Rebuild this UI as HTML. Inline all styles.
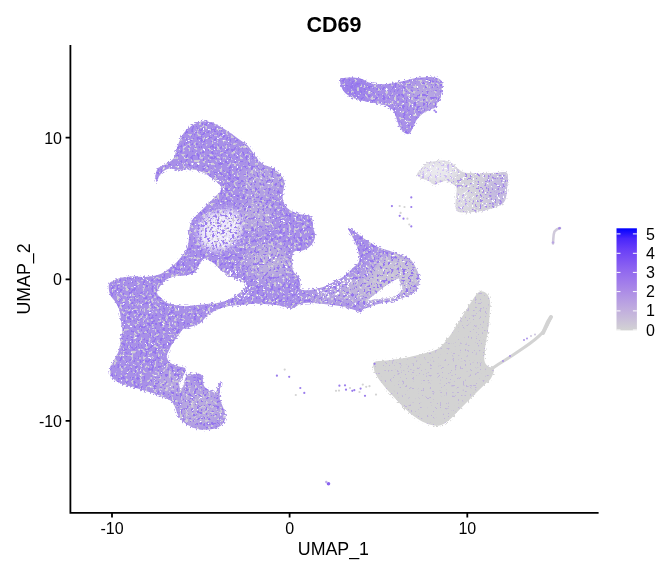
<!DOCTYPE html>
<html><head><meta charset="utf-8"><style>
html,body{margin:0;padding:0;background:#fff;}
svg{display:block;}
text{font-family:"Liberation Sans",Arial,sans-serif;}
</style></head><body>
<svg width="672" height="576" viewBox="0 0 672 576">
<defs>
<linearGradient id="lg" x1="0" y1="0" x2="0" y2="1"><stop offset="0.000" stop-color="#0000ff"/><stop offset="0.100" stop-color="#4926fb"/><stop offset="0.200" stop-color="#673df8"/><stop offset="0.300" stop-color="#7c51f4"/><stop offset="0.400" stop-color="#8e65f0"/><stop offset="0.500" stop-color="#9d77ec"/><stop offset="0.600" stop-color="#aa89e7"/><stop offset="0.700" stop-color="#b69ce3"/><stop offset="0.800" stop-color="#c1aede"/><stop offset="0.900" stop-color="#cac0d9"/><stop offset="1.000" stop-color="#d3d3d3"/></linearGradient>
<filter id="sg" color-interpolation-filters="sRGB" x="0" y="0" width="672" height="576" filterUnits="userSpaceOnUse"><feTurbulence type="fractalNoise" baseFrequency="0.35" numOctaves="2" seed="3"/><feColorMatrix type="matrix" values="0 0 0 0 0.812 0 0 0 0 0.796 0 0 0 0 0.847 14 0 0 0 -8.4"/><feComponentTransfer><feFuncA type="linear" slope="1.0"/></feComponentTransfer></filter><filter id="sw" color-interpolation-filters="sRGB" x="0" y="0" width="672" height="576" filterUnits="userSpaceOnUse"><feTurbulence type="fractalNoise" baseFrequency="0.35" numOctaves="2" seed="3"/><feColorMatrix type="matrix" values="0 0 0 0 1.000 0 0 0 0 1.000 0 0 0 0 1.000 0 14 0 0 -10.08"/><feComponentTransfer><feFuncA type="linear" slope="1.0"/></feComponentTransfer></filter><filter id="sp" color-interpolation-filters="sRGB" x="0" y="0" width="672" height="576" filterUnits="userSpaceOnUse"><feTurbulence type="fractalNoise" baseFrequency="0.35" numOctaves="2" seed="3"/><feColorMatrix type="matrix" values="0 0 0 0 0.580 0 0 0 0 0.455 0 0 0 0 0.933 0 0 14 0 -7.9799999999999995"/><feComponentTransfer><feFuncA type="linear" slope="1.0"/></feComponentTransfer></filter><filter id="sp2" color-interpolation-filters="sRGB" x="0" y="0" width="672" height="576" filterUnits="userSpaceOnUse"><feTurbulence type="fractalNoise" baseFrequency="0.4" numOctaves="2" seed="11"/><feColorMatrix type="matrix" values="0 0 0 0 0.616 0 0 0 0 0.486 0 0 0 0 0.925 14 0 0 0 -9.24"/><feComponentTransfer><feFuncA type="linear" slope="1.0"/></feComponentTransfer></filter><filter id="sw2" color-interpolation-filters="sRGB" x="0" y="0" width="672" height="576" filterUnits="userSpaceOnUse"><feTurbulence type="fractalNoise" baseFrequency="0.4" numOctaves="2" seed="11"/><feColorMatrix type="matrix" values="0 0 0 0 1.000 0 0 0 0 1.000 0 0 0 0 1.000 0 14 0 0 -9.24"/><feComponentTransfer><feFuncA type="linear" slope="1.0"/></feComponentTransfer></filter><filter id="sp3" color-interpolation-filters="sRGB" x="0" y="0" width="672" height="576" filterUnits="userSpaceOnUse"><feTurbulence type="fractalNoise" baseFrequency="0.4" numOctaves="2" seed="13"/><feColorMatrix type="matrix" values="0 0 0 0 0.639 0 0 0 0 0.522 0 0 0 0 0.918 0 0 14 0 -8.33"/><feComponentTransfer><feFuncA type="linear" slope="1.0"/></feComponentTransfer></filter><filter id="swh" color-interpolation-filters="sRGB" x="0" y="0" width="672" height="576" filterUnits="userSpaceOnUse"><feTurbulence type="fractalNoise" baseFrequency="0.4" numOctaves="2" seed="5"/><feColorMatrix type="matrix" values="0 0 0 0 1.000 0 0 0 0 1.000 0 0 0 0 1.000 14 0 0 0 -8.19"/><feComponentTransfer><feFuncA type="linear" slope="1.0"/></feComponentTransfer></filter><filter id="sgh" color-interpolation-filters="sRGB" x="0" y="0" width="672" height="576" filterUnits="userSpaceOnUse"><feTurbulence type="fractalNoise" baseFrequency="0.4" numOctaves="2" seed="7"/><feColorMatrix type="matrix" values="0 0 0 0 0.827 0 0 0 0 0.827 0 0 0 0 0.827 0 14 0 0 -7.28"/><feComponentTransfer><feFuncA type="linear" slope="1.0"/></feComponentTransfer></filter><filter id="mk" color-interpolation-filters="sRGB" x="0" y="0" width="672" height="576" filterUnits="userSpaceOnUse"><feTurbulence type="fractalNoise" baseFrequency="0.5" numOctaves="2" seed="21"/><feColorMatrix type="matrix" values="0 0 0 0 1.000 0 0 0 0 1.000 0 0 0 0 1.000 14 0 0 0 -7.840000000000001"/><feComponentTransfer><feFuncA type="linear" slope="1.0"/></feComponentTransfer></filter><mask id="em" maskUnits="userSpaceOnUse" x="0" y="0" width="672" height="576"><rect width="672" height="576" filter="url(#mk)"/></mask><filter id="bl3" x="-50%" y="-50%" width="200%" height="200%"><feGaussianBlur stdDeviation="3"/></filter><filter id="spd" color-interpolation-filters="sRGB" x="0" y="0" width="672" height="576" filterUnits="userSpaceOnUse"><feTurbulence type="fractalNoise" baseFrequency="0.4" numOctaves="2" seed="17"/><feColorMatrix type="matrix" values="0 0 0 0 0.604 0 0 0 0 0.486 0 0 0 0 0.933 0 0 14 0 -7.49"/><feComponentTransfer><feFuncA type="linear" slope="1.0"/></feComponentTransfer></filter><filter id="sgd" color-interpolation-filters="sRGB" x="0" y="0" width="672" height="576" filterUnits="userSpaceOnUse"><feTurbulence type="fractalNoise" baseFrequency="0.4" numOctaves="2" seed="17"/><feColorMatrix type="matrix" values="0 0 0 0 0.812 0 0 0 0 0.796 0 0 0 0 0.847 14 0 0 0 -8.4"/><feComponentTransfer><feFuncA type="linear" slope="1.0"/></feComponentTransfer></filter><filter id="bl" x="-50%" y="-50%" width="200%" height="200%"><feGaussianBlur stdDeviation="6"/></filter>
<clipPath id="cm"><path clip-rule="evenodd" d="M156.7,182.0 C156.1,181.8 155.4,177.5 155.6,175.3 C155.8,173.1 156.5,170.3 157.8,168.6 C159.1,166.9 161.2,166.5 163.4,165.2 C165.6,163.9 169.3,162.3 171.2,160.8 C173.1,159.3 173.7,158.4 174.6,156.3 C175.5,154.2 175.7,151.7 176.8,148.5 C177.9,145.3 179.6,140.5 181.2,137.3 C182.9,134.1 184.6,131.7 186.8,129.5 C189.0,127.3 191.8,125.3 194.6,123.9 C197.4,122.5 200.6,121.4 203.6,121.2 C206.6,121.1 209.5,121.8 212.5,122.8 C215.5,123.8 218.4,125.6 221.4,127.3 C224.4,129.0 227.4,130.8 230.4,132.9 C233.4,135.0 236.3,137.4 239.3,139.6 C242.3,141.8 245.3,143.1 248.2,146.2 C251.1,149.4 254.5,155.4 256.9,158.3 C259.3,161.2 260.4,162.5 262.5,163.9 C264.6,165.3 267.3,165.8 269.4,166.7 C271.5,167.6 273.1,168.0 275.0,169.4 C276.9,170.8 279.1,173.1 280.6,175.0 C282.1,176.9 283.4,178.5 284.0,180.6 C284.6,182.7 284.2,185.2 284.0,187.5 C283.8,189.8 282.7,192.1 282.6,194.4 C282.5,196.7 282.5,199.1 283.3,201.4 C284.1,203.7 285.6,206.5 287.5,208.3 C289.4,210.2 292.1,211.4 294.4,212.5 C296.7,213.6 299.1,214.1 301.4,214.6 C303.7,215.1 306.6,214.7 308.3,215.3 C310.0,215.9 311.0,216.1 311.8,218.0 C312.6,219.9 312.5,223.5 313.0,226.7 C313.5,229.9 315.4,233.9 315.0,237.0 C314.6,240.1 312.9,243.1 310.8,245.4 C308.7,247.7 305.3,249.6 302.5,250.6 C299.7,251.6 295.9,250.5 294.2,251.7 C292.4,252.9 292.2,254.9 292.0,258.0 C291.8,261.1 292.1,267.3 293.1,270.4 C294.2,273.5 297.1,274.3 298.3,276.7 C299.5,279.1 300.0,282.9 300.4,285.0 C300.8,287.1 299.3,288.3 300.4,289.2 C301.4,290.1 304.3,290.2 306.7,290.2 C309.1,290.2 312.2,289.7 315.0,289.2 C317.8,288.7 320.5,288.0 323.3,287.0 C326.1,286.0 328.9,284.4 331.7,283.0 C334.5,281.6 337.6,280.1 340.0,278.8 C342.4,277.4 344.2,276.3 346.2,274.6 C348.3,272.9 350.4,270.4 352.5,268.3 C354.6,266.2 357.7,264.4 358.8,262.0 C359.8,259.6 359.1,256.5 358.8,253.8 C358.4,251.0 357.7,248.2 356.7,245.4 C355.7,242.6 353.9,239.8 352.5,237.0 C351.1,234.2 347.6,229.0 348.3,228.3 C349.0,227.6 353.9,231.1 356.7,232.9 C359.5,234.7 362.2,237.3 365.0,239.2 C367.8,241.1 370.5,242.8 373.3,244.4 C376.1,246.0 378.6,247.3 381.7,248.5 C384.8,249.7 388.5,250.5 392.0,251.7 C395.5,252.9 399.4,254.4 402.5,255.8 C405.6,257.2 408.6,257.9 410.8,260.0 C413.1,262.1 414.6,265.5 416.0,268.3 C417.4,271.1 418.7,274.4 419.2,276.7 C419.7,279.0 419.6,280.2 419.2,282.3 C418.8,284.4 418.1,287.1 417.0,289.0 C415.9,290.9 414.4,292.2 412.5,293.5 C410.6,294.8 408.0,295.9 405.8,296.8 C403.6,297.7 401.3,298.2 399.1,299.0 C396.9,299.8 395.0,300.6 392.4,301.3 C389.8,302.0 386.3,302.4 383.5,303.0 C380.7,303.6 377.9,304.0 375.7,304.6 C373.4,305.2 372.1,306.1 370.0,306.9 C367.9,307.6 364.9,308.2 363.4,309.1 C361.9,310.0 362.3,312.0 360.8,312.1 C359.3,312.2 357.4,310.9 354.6,310.0 C351.8,309.1 348.0,307.8 344.2,306.9 C340.4,306.0 335.5,305.3 331.7,304.8 C327.9,304.3 324.7,304.1 321.2,303.8 C317.8,303.4 314.3,302.7 310.8,302.7 C307.3,302.7 303.3,302.9 300.4,303.8 C297.5,304.6 295.9,307.5 293.3,308.1 C290.7,308.7 287.8,307.6 285.0,307.1 C282.2,306.6 280.2,305.5 276.7,305.0 C273.2,304.5 267.8,304.2 264.2,304.0 C260.6,303.8 258.1,303.7 255.0,303.8 C251.9,303.9 248.1,304.2 245.5,304.4 C242.9,304.6 241.5,304.8 239.5,305.0 C237.5,305.2 235.6,305.4 233.6,305.6 C231.6,305.8 229.6,305.8 227.6,306.2 C225.6,306.6 223.7,307.3 221.7,308.0 C219.7,308.7 217.7,309.5 215.7,310.4 C213.7,311.3 211.6,312.0 209.8,313.3 C208.0,314.6 206.6,316.5 205.0,318.1 C203.4,319.7 202.4,321.5 200.2,322.9 C198.0,324.3 194.7,325.4 191.9,326.4 C189.1,327.4 185.7,327.5 183.6,328.8 C181.5,330.1 181.0,331.9 179.2,334.2 C177.4,336.5 174.6,339.7 172.9,342.5 C171.2,345.3 169.8,348.4 168.8,350.8 C167.7,353.2 166.4,354.9 166.7,357.0 C167.0,359.1 168.7,361.7 170.8,363.3 C172.9,364.9 176.8,365.6 179.2,366.5 C181.6,367.4 184.7,366.9 185.4,368.5 C186.1,370.1 184.3,373.6 183.3,375.8 C182.3,378.1 179.7,379.9 179.2,382.0 C178.7,384.1 179.5,387.6 180.2,388.3 C180.9,389.0 182.4,388.0 183.3,386.2 C184.2,384.5 184.4,380.0 185.4,377.9 C186.4,375.8 188.2,374.3 189.6,373.8 C191.0,373.2 192.4,374.8 193.8,374.8 C195.1,374.8 196.5,373.6 197.9,373.8 C199.3,373.9 200.9,373.7 202.0,375.8 C203.1,377.9 202.8,383.8 204.2,386.2 C205.6,388.7 208.5,389.4 210.4,390.4 C212.3,391.4 214.2,393.5 215.6,392.5 C217.0,391.5 217.9,385.8 218.8,384.2 C219.6,382.6 220.6,382.1 220.8,383.1 C221.0,384.1 220.0,387.8 219.8,390.4 C219.6,393.0 219.3,396.0 219.8,398.8 C220.3,401.5 222.0,404.6 222.9,407.0 C223.8,409.4 224.7,411.2 225.0,413.3 C225.3,415.4 225.7,417.5 225.0,419.6 C224.3,421.7 222.9,424.2 220.8,425.8 C218.7,427.4 215.6,428.4 212.5,429.0 C209.4,429.6 205.5,430.0 202.0,429.6 C198.5,429.2 194.8,428.2 191.7,426.9 C188.6,425.6 185.6,423.6 183.3,421.7 C181.0,419.8 179.5,417.8 178.1,415.4 C176.7,412.9 176.2,409.4 175.0,407.0 C173.8,404.6 172.9,402.5 170.8,400.8 C168.7,399.1 165.3,397.9 162.5,396.7 C159.7,395.5 157.3,394.6 154.2,393.5 C151.1,392.4 147.2,391.4 143.8,390.4 C140.3,389.4 136.8,388.3 133.3,387.3 C129.8,386.3 126.0,385.4 122.9,384.2 C119.8,383.0 116.7,381.7 114.6,380.0 C112.5,378.3 111.1,375.8 110.4,373.8 C109.7,371.7 109.7,369.9 110.4,367.5 C111.1,365.1 113.2,362.0 114.6,359.2 C116.0,356.4 117.7,353.9 118.8,350.8 C119.8,347.7 120.2,343.9 120.8,340.4 C121.4,336.9 122.1,332.3 122.3,330.0 C122.5,327.7 122.0,328.6 121.7,326.6 C121.5,324.6 121.2,320.9 120.8,318.0 C120.4,315.1 120.0,311.8 119.1,309.2 C118.2,306.6 117.0,304.6 115.6,302.3 C114.1,300.0 111.6,297.9 110.4,295.3 C109.2,292.7 108.7,288.9 108.7,286.7 C108.7,284.5 109.0,283.6 110.4,282.3 C111.9,281.0 114.8,279.8 117.4,278.9 C120.0,278.0 123.1,277.5 126.0,277.1 C128.9,276.7 131.8,276.6 134.7,276.6 C137.6,276.6 140.5,277.2 143.4,277.1 C146.3,277.0 149.5,276.7 152.1,276.2 C154.7,275.8 157.0,275.2 159.0,274.5 C161.0,273.8 162.5,272.9 164.2,271.9 C165.9,270.9 167.4,270.0 169.4,268.4 C171.4,266.8 174.3,264.5 176.4,262.4 C178.5,260.3 180.2,258.2 182.0,256.0 C183.8,253.8 185.9,251.7 187.0,249.0 C188.1,246.3 188.3,243.3 188.8,240.0 C189.2,236.7 189.1,232.1 189.4,229.4 C189.7,226.7 190.1,225.8 190.8,223.9 C191.5,222.1 192.2,220.2 193.6,218.3 C195.0,216.5 197.3,214.7 199.2,212.8 C201.0,211.0 202.8,209.0 204.7,207.2 C206.5,205.3 208.5,203.5 210.3,201.7 C212.2,199.8 214.2,197.7 215.8,196.1 C217.4,194.5 219.1,193.5 220.0,192.0 C220.9,190.5 221.9,188.7 221.4,187.1 C220.9,185.5 218.8,183.7 217.2,182.2 C215.6,180.7 213.8,179.5 211.7,178.0 C209.6,176.5 207.0,174.5 204.7,173.2 C202.4,171.9 200.1,171.0 197.8,170.4 C195.5,169.8 193.1,169.8 190.8,169.7 C188.5,169.6 186.2,169.7 183.9,169.7 C181.6,169.7 179.2,169.9 176.9,169.7 C174.6,169.5 172.3,168.0 170.0,168.3 C167.7,168.6 164.8,170.1 163.0,171.5 C161.2,172.9 160.1,174.8 159.0,176.5 C157.9,178.2 157.3,182.2 156.7,182.0Z M157.1,291.9 C157.7,289.2 161.5,283.8 164.3,281.2 C167.1,278.6 170.2,277.4 173.8,276.4 C177.4,275.4 182.1,276.0 185.7,275.2 C189.3,274.4 192.8,273.7 195.2,271.7 C197.6,269.7 198.4,265.5 200.0,263.3 C201.6,261.1 202.8,258.8 204.8,258.6 C206.8,258.4 209.5,260.5 211.9,262.1 C214.3,263.7 216.6,266.1 219.0,268.1 C221.4,270.1 223.8,272.4 226.2,274.0 C228.6,275.6 230.9,276.4 233.3,277.6 C235.7,278.8 238.4,280.1 240.5,281.2 C242.6,282.3 245.4,283.3 246.0,284.5 C246.6,285.7 245.4,287.1 244.3,288.5 C243.2,289.9 241.3,291.7 239.5,293.1 C237.7,294.5 235.6,295.5 233.6,296.7 C231.6,297.9 229.6,299.3 227.6,300.2 C225.6,301.1 223.7,301.5 221.7,302.0 C219.7,302.5 217.7,302.9 215.7,303.2 C213.7,303.5 211.8,303.6 209.8,303.8 C207.8,304.0 205.8,304.2 203.8,304.4 C201.8,304.6 199.9,304.8 197.9,305.0 C195.9,305.2 193.9,305.4 191.9,305.6 C189.9,305.8 188.9,306.3 186.0,306.2 C183.1,306.1 178.0,305.6 174.7,305.0 C171.3,304.4 168.3,303.6 166.0,302.3 C163.7,301.1 162.3,299.2 160.8,297.5 C159.3,295.8 156.5,294.6 157.1,291.9Z M367.9,300.2 C368.1,299.2 373.3,295.6 375.7,293.5 C378.1,291.4 380.2,289.6 382.4,287.9 C384.6,286.2 387.0,284.7 389.0,283.4 C391.0,282.1 392.9,280.9 394.6,280.1 C396.3,279.3 398.2,278.0 399.1,278.4 C400.0,278.8 399.6,280.7 400.2,282.3 C400.8,283.9 402.7,286.0 402.5,287.9 C402.3,289.8 400.4,292.0 399.1,293.5 C397.8,295.0 396.5,296.0 394.6,296.8 C392.8,297.6 390.2,298.1 388.0,298.5 C385.8,298.9 383.5,298.8 381.2,299.0 C379.0,299.2 376.8,299.4 374.6,299.6 C372.3,299.8 367.7,301.2 367.9,300.2Z"/><path d="M340.6,80.5 C341.1,79.5 341.4,78.7 343.5,78.2 C345.6,77.7 350.1,77.5 353.2,77.6 C356.3,77.7 359.3,78.1 361.9,78.9 C364.5,79.7 366.3,81.5 368.7,82.4 C371.1,83.3 373.8,84.0 376.4,84.3 C379.0,84.6 381.6,84.4 384.2,84.3 C386.8,84.2 389.0,83.9 391.9,83.4 C394.8,82.9 398.4,82.2 401.6,81.4 C404.8,80.7 408.1,79.5 411.3,78.9 C414.5,78.3 417.7,77.9 420.9,77.6 C424.1,77.3 427.7,76.8 430.6,77.0 C433.5,77.2 436.4,77.6 438.3,78.5 C440.2,79.4 441.6,80.5 442.2,82.4 C442.8,84.4 442.1,87.6 441.8,90.2 C441.5,92.8 441.0,95.8 440.3,97.9 C439.6,100.0 438.2,101.1 437.4,102.7 C436.6,104.3 436.5,106.5 435.4,107.6 C434.3,108.7 432.7,108.5 430.6,109.5 C428.5,110.5 425.1,111.8 422.9,113.4 C420.6,115.0 418.7,117.0 417.1,119.2 C415.5,121.5 414.5,124.5 413.2,126.9 C411.9,129.3 410.8,132.7 409.3,133.7 C407.9,134.7 406.1,133.8 404.5,132.7 C402.9,131.6 400.9,129.2 399.6,126.9 C398.3,124.7 397.7,121.8 396.7,119.2 C395.7,116.6 395.2,113.5 393.8,111.4 C392.4,109.3 390.2,107.9 388.0,106.6 C385.8,105.3 382.9,104.3 380.3,103.7 C377.7,103.1 375.5,103.2 372.6,102.7 C369.7,102.2 366.1,101.6 362.9,100.8 C359.7,100.0 355.9,99.0 353.2,97.9 C350.4,96.8 348.2,95.5 346.4,94.0 C344.6,92.5 343.6,90.8 342.6,89.2 C341.6,87.6 340.9,85.8 340.6,84.3 C340.3,82.8 340.1,81.5 340.6,80.5Z"/></clipPath>
<clipPath id="cr"><path d="M417.1,174.2 C417.1,172.7 419.4,171.1 421.0,169.3 C422.6,167.5 424.6,164.8 426.8,163.5 C429.1,162.2 431.6,161.7 434.5,161.2 C437.4,160.7 441.3,160.2 444.2,160.6 C447.1,161.0 449.6,162.2 451.9,163.5 C454.1,164.8 455.8,167.0 457.7,168.4 C459.6,169.8 460.9,171.4 463.5,172.2 C466.1,173.0 469.6,173.0 473.2,173.2 C476.8,173.4 480.9,173.3 484.8,173.2 C488.7,173.1 492.8,173.0 496.4,172.8 C499.9,172.6 504.2,171.5 506.1,172.2 C508.0,172.9 507.9,174.3 508.0,177.1 C508.1,179.8 507.5,184.8 507.0,188.7 C506.5,192.6 506.6,197.4 505.1,200.3 C503.7,203.2 501.4,204.5 498.3,206.1 C495.2,207.7 490.9,209.0 486.7,210.0 C482.5,211.0 477.7,211.5 473.2,211.9 C468.7,212.3 462.5,213.0 459.6,212.3 C456.7,211.7 456.4,210.3 455.8,208.0 C455.2,205.7 455.7,201.6 455.8,198.4 C455.9,195.2 457.0,191.0 456.7,188.7 C456.4,186.4 455.6,186.1 453.8,184.8 C452.0,183.5 448.7,181.3 446.1,181.0 C443.5,180.7 440.3,182.3 438.4,182.9 C436.5,183.5 436.1,185.1 434.5,184.8 C432.9,184.5 430.9,182.1 428.7,181.0 C426.4,179.9 422.9,179.2 421.0,178.1 C419.1,177.0 417.1,175.7 417.1,174.2Z"/></clipPath>
<clipPath id="cg"><path d="M480.5,291.3 C482.2,291.1 484.9,291.8 486.5,293.4 C488.1,295.0 489.5,297.1 490.0,300.8 C490.5,304.5 489.8,310.7 489.5,315.7 C489.2,320.7 488.8,325.1 488.0,330.6 C487.2,336.1 485.6,343.5 485.0,348.5 C484.4,353.5 483.9,357.4 484.4,360.4 C484.9,363.4 486.4,364.8 488.0,366.3 C489.6,367.8 493.5,367.3 494.0,369.3 C494.5,371.3 492.5,375.7 491.0,378.2 C489.5,380.7 487.5,381.7 485.0,384.2 C482.5,386.7 479.0,390.1 476.0,393.1 C473.0,396.1 470.1,399.0 467.1,402.0 C464.1,405.0 461.2,408.0 458.2,411.0 C455.2,414.0 452.3,417.5 449.3,419.9 C446.3,422.3 443.4,424.3 440.4,425.2 C437.4,426.1 434.9,425.9 431.4,425.0 C427.9,424.1 423.5,422.2 419.5,419.9 C415.5,417.6 411.6,414.5 407.6,411.0 C403.6,407.5 399.7,403.2 395.7,399.0 C391.7,394.8 387.0,389.7 383.8,385.7 C380.6,381.7 378.1,378.4 376.4,375.2 C374.7,372.0 373.6,368.5 373.4,366.3 C373.1,364.1 372.7,362.8 374.9,361.8 C377.1,360.8 381.9,361.0 386.8,360.4 C391.8,359.8 399.2,359.0 404.6,358.0 C410.1,357.0 415.0,355.5 419.5,354.4 C424.0,353.3 427.9,352.6 431.4,351.4 C434.9,350.2 437.4,349.5 440.4,347.0 C443.4,344.5 446.8,339.7 449.3,336.5 C451.8,333.3 453.0,331.1 455.2,327.6 C457.4,324.1 460.2,319.7 462.7,315.7 C465.2,311.7 467.9,307.3 470.1,303.8 C472.3,300.3 474.3,297.0 476.0,294.9 C477.7,292.8 478.8,291.6 480.5,291.3Z"/></clipPath>
<clipPath id="s1"><path d="M199,226 C202,215 216,209 231,210 C243,213 244,227 239,238 C234,248 221,252 208,250 C199,246 196,236 199,226Z"/></clipPath><clipPath id="s2"><path d="M226,268 C236,268 248,276 252,290 C250,300 240,302 232,298 C226,290 222,278 226,268Z"/></clipPath><clipPath id="s3"><path d="M318,282 C330,276 344,272 352,278 C352,290 340,296 326,298 C316,298 310,290 318,282Z"/></clipPath><clipPath id="s4"><path d="M366,301 C380,299 395,297 405,294 C408,299 400,302 390,303 C380,305 370,308 364,306Z"/></clipPath><mask id="m1" maskUnits="userSpaceOnUse" x="0" y="0" width="672" height="576"><path d="M199,226 C202,215 216,209 231,210 C243,213 244,227 239,238 C234,248 221,252 208,250 C199,246 196,236 199,226Z" fill="#fff" filter="url(#bl3)"/></mask>
</defs>
<rect width="672" height="576" fill="#fff"/>
<path fill-rule="evenodd" d="M156.7,182.0 C156.1,181.8 155.4,177.5 155.6,175.3 C155.8,173.1 156.5,170.3 157.8,168.6 C159.1,166.9 161.2,166.5 163.4,165.2 C165.6,163.9 169.3,162.3 171.2,160.8 C173.1,159.3 173.7,158.4 174.6,156.3 C175.5,154.2 175.7,151.7 176.8,148.5 C177.9,145.3 179.6,140.5 181.2,137.3 C182.9,134.1 184.6,131.7 186.8,129.5 C189.0,127.3 191.8,125.3 194.6,123.9 C197.4,122.5 200.6,121.4 203.6,121.2 C206.6,121.1 209.5,121.8 212.5,122.8 C215.5,123.8 218.4,125.6 221.4,127.3 C224.4,129.0 227.4,130.8 230.4,132.9 C233.4,135.0 236.3,137.4 239.3,139.6 C242.3,141.8 245.3,143.1 248.2,146.2 C251.1,149.4 254.5,155.4 256.9,158.3 C259.3,161.2 260.4,162.5 262.5,163.9 C264.6,165.3 267.3,165.8 269.4,166.7 C271.5,167.6 273.1,168.0 275.0,169.4 C276.9,170.8 279.1,173.1 280.6,175.0 C282.1,176.9 283.4,178.5 284.0,180.6 C284.6,182.7 284.2,185.2 284.0,187.5 C283.8,189.8 282.7,192.1 282.6,194.4 C282.5,196.7 282.5,199.1 283.3,201.4 C284.1,203.7 285.6,206.5 287.5,208.3 C289.4,210.2 292.1,211.4 294.4,212.5 C296.7,213.6 299.1,214.1 301.4,214.6 C303.7,215.1 306.6,214.7 308.3,215.3 C310.0,215.9 311.0,216.1 311.8,218.0 C312.6,219.9 312.5,223.5 313.0,226.7 C313.5,229.9 315.4,233.9 315.0,237.0 C314.6,240.1 312.9,243.1 310.8,245.4 C308.7,247.7 305.3,249.6 302.5,250.6 C299.7,251.6 295.9,250.5 294.2,251.7 C292.4,252.9 292.2,254.9 292.0,258.0 C291.8,261.1 292.1,267.3 293.1,270.4 C294.2,273.5 297.1,274.3 298.3,276.7 C299.5,279.1 300.0,282.9 300.4,285.0 C300.8,287.1 299.3,288.3 300.4,289.2 C301.4,290.1 304.3,290.2 306.7,290.2 C309.1,290.2 312.2,289.7 315.0,289.2 C317.8,288.7 320.5,288.0 323.3,287.0 C326.1,286.0 328.9,284.4 331.7,283.0 C334.5,281.6 337.6,280.1 340.0,278.8 C342.4,277.4 344.2,276.3 346.2,274.6 C348.3,272.9 350.4,270.4 352.5,268.3 C354.6,266.2 357.7,264.4 358.8,262.0 C359.8,259.6 359.1,256.5 358.8,253.8 C358.4,251.0 357.7,248.2 356.7,245.4 C355.7,242.6 353.9,239.8 352.5,237.0 C351.1,234.2 347.6,229.0 348.3,228.3 C349.0,227.6 353.9,231.1 356.7,232.9 C359.5,234.7 362.2,237.3 365.0,239.2 C367.8,241.1 370.5,242.8 373.3,244.4 C376.1,246.0 378.6,247.3 381.7,248.5 C384.8,249.7 388.5,250.5 392.0,251.7 C395.5,252.9 399.4,254.4 402.5,255.8 C405.6,257.2 408.6,257.9 410.8,260.0 C413.1,262.1 414.6,265.5 416.0,268.3 C417.4,271.1 418.7,274.4 419.2,276.7 C419.7,279.0 419.6,280.2 419.2,282.3 C418.8,284.4 418.1,287.1 417.0,289.0 C415.9,290.9 414.4,292.2 412.5,293.5 C410.6,294.8 408.0,295.9 405.8,296.8 C403.6,297.7 401.3,298.2 399.1,299.0 C396.9,299.8 395.0,300.6 392.4,301.3 C389.8,302.0 386.3,302.4 383.5,303.0 C380.7,303.6 377.9,304.0 375.7,304.6 C373.4,305.2 372.1,306.1 370.0,306.9 C367.9,307.6 364.9,308.2 363.4,309.1 C361.9,310.0 362.3,312.0 360.8,312.1 C359.3,312.2 357.4,310.9 354.6,310.0 C351.8,309.1 348.0,307.8 344.2,306.9 C340.4,306.0 335.5,305.3 331.7,304.8 C327.9,304.3 324.7,304.1 321.2,303.8 C317.8,303.4 314.3,302.7 310.8,302.7 C307.3,302.7 303.3,302.9 300.4,303.8 C297.5,304.6 295.9,307.5 293.3,308.1 C290.7,308.7 287.8,307.6 285.0,307.1 C282.2,306.6 280.2,305.5 276.7,305.0 C273.2,304.5 267.8,304.2 264.2,304.0 C260.6,303.8 258.1,303.7 255.0,303.8 C251.9,303.9 248.1,304.2 245.5,304.4 C242.9,304.6 241.5,304.8 239.5,305.0 C237.5,305.2 235.6,305.4 233.6,305.6 C231.6,305.8 229.6,305.8 227.6,306.2 C225.6,306.6 223.7,307.3 221.7,308.0 C219.7,308.7 217.7,309.5 215.7,310.4 C213.7,311.3 211.6,312.0 209.8,313.3 C208.0,314.6 206.6,316.5 205.0,318.1 C203.4,319.7 202.4,321.5 200.2,322.9 C198.0,324.3 194.7,325.4 191.9,326.4 C189.1,327.4 185.7,327.5 183.6,328.8 C181.5,330.1 181.0,331.9 179.2,334.2 C177.4,336.5 174.6,339.7 172.9,342.5 C171.2,345.3 169.8,348.4 168.8,350.8 C167.7,353.2 166.4,354.9 166.7,357.0 C167.0,359.1 168.7,361.7 170.8,363.3 C172.9,364.9 176.8,365.6 179.2,366.5 C181.6,367.4 184.7,366.9 185.4,368.5 C186.1,370.1 184.3,373.6 183.3,375.8 C182.3,378.1 179.7,379.9 179.2,382.0 C178.7,384.1 179.5,387.6 180.2,388.3 C180.9,389.0 182.4,388.0 183.3,386.2 C184.2,384.5 184.4,380.0 185.4,377.9 C186.4,375.8 188.2,374.3 189.6,373.8 C191.0,373.2 192.4,374.8 193.8,374.8 C195.1,374.8 196.5,373.6 197.9,373.8 C199.3,373.9 200.9,373.7 202.0,375.8 C203.1,377.9 202.8,383.8 204.2,386.2 C205.6,388.7 208.5,389.4 210.4,390.4 C212.3,391.4 214.2,393.5 215.6,392.5 C217.0,391.5 217.9,385.8 218.8,384.2 C219.6,382.6 220.6,382.1 220.8,383.1 C221.0,384.1 220.0,387.8 219.8,390.4 C219.6,393.0 219.3,396.0 219.8,398.8 C220.3,401.5 222.0,404.6 222.9,407.0 C223.8,409.4 224.7,411.2 225.0,413.3 C225.3,415.4 225.7,417.5 225.0,419.6 C224.3,421.7 222.9,424.2 220.8,425.8 C218.7,427.4 215.6,428.4 212.5,429.0 C209.4,429.6 205.5,430.0 202.0,429.6 C198.5,429.2 194.8,428.2 191.7,426.9 C188.6,425.6 185.6,423.6 183.3,421.7 C181.0,419.8 179.5,417.8 178.1,415.4 C176.7,412.9 176.2,409.4 175.0,407.0 C173.8,404.6 172.9,402.5 170.8,400.8 C168.7,399.1 165.3,397.9 162.5,396.7 C159.7,395.5 157.3,394.6 154.2,393.5 C151.1,392.4 147.2,391.4 143.8,390.4 C140.3,389.4 136.8,388.3 133.3,387.3 C129.8,386.3 126.0,385.4 122.9,384.2 C119.8,383.0 116.7,381.7 114.6,380.0 C112.5,378.3 111.1,375.8 110.4,373.8 C109.7,371.7 109.7,369.9 110.4,367.5 C111.1,365.1 113.2,362.0 114.6,359.2 C116.0,356.4 117.7,353.9 118.8,350.8 C119.8,347.7 120.2,343.9 120.8,340.4 C121.4,336.9 122.1,332.3 122.3,330.0 C122.5,327.7 122.0,328.6 121.7,326.6 C121.5,324.6 121.2,320.9 120.8,318.0 C120.4,315.1 120.0,311.8 119.1,309.2 C118.2,306.6 117.0,304.6 115.6,302.3 C114.1,300.0 111.6,297.9 110.4,295.3 C109.2,292.7 108.7,288.9 108.7,286.7 C108.7,284.5 109.0,283.6 110.4,282.3 C111.9,281.0 114.8,279.8 117.4,278.9 C120.0,278.0 123.1,277.5 126.0,277.1 C128.9,276.7 131.8,276.6 134.7,276.6 C137.6,276.6 140.5,277.2 143.4,277.1 C146.3,277.0 149.5,276.7 152.1,276.2 C154.7,275.8 157.0,275.2 159.0,274.5 C161.0,273.8 162.5,272.9 164.2,271.9 C165.9,270.9 167.4,270.0 169.4,268.4 C171.4,266.8 174.3,264.5 176.4,262.4 C178.5,260.3 180.2,258.2 182.0,256.0 C183.8,253.8 185.9,251.7 187.0,249.0 C188.1,246.3 188.3,243.3 188.8,240.0 C189.2,236.7 189.1,232.1 189.4,229.4 C189.7,226.7 190.1,225.8 190.8,223.9 C191.5,222.1 192.2,220.2 193.6,218.3 C195.0,216.5 197.3,214.7 199.2,212.8 C201.0,211.0 202.8,209.0 204.7,207.2 C206.5,205.3 208.5,203.5 210.3,201.7 C212.2,199.8 214.2,197.7 215.8,196.1 C217.4,194.5 219.1,193.5 220.0,192.0 C220.9,190.5 221.9,188.7 221.4,187.1 C220.9,185.5 218.8,183.7 217.2,182.2 C215.6,180.7 213.8,179.5 211.7,178.0 C209.6,176.5 207.0,174.5 204.7,173.2 C202.4,171.9 200.1,171.0 197.8,170.4 C195.5,169.8 193.1,169.8 190.8,169.7 C188.5,169.6 186.2,169.7 183.9,169.7 C181.6,169.7 179.2,169.9 176.9,169.7 C174.6,169.5 172.3,168.0 170.0,168.3 C167.7,168.6 164.8,170.1 163.0,171.5 C161.2,172.9 160.1,174.8 159.0,176.5 C157.9,178.2 157.3,182.2 156.7,182.0Z M157.1,291.9 C157.7,289.2 161.5,283.8 164.3,281.2 C167.1,278.6 170.2,277.4 173.8,276.4 C177.4,275.4 182.1,276.0 185.7,275.2 C189.3,274.4 192.8,273.7 195.2,271.7 C197.6,269.7 198.4,265.5 200.0,263.3 C201.6,261.1 202.8,258.8 204.8,258.6 C206.8,258.4 209.5,260.5 211.9,262.1 C214.3,263.7 216.6,266.1 219.0,268.1 C221.4,270.1 223.8,272.4 226.2,274.0 C228.6,275.6 230.9,276.4 233.3,277.6 C235.7,278.8 238.4,280.1 240.5,281.2 C242.6,282.3 245.4,283.3 246.0,284.5 C246.6,285.7 245.4,287.1 244.3,288.5 C243.2,289.9 241.3,291.7 239.5,293.1 C237.7,294.5 235.6,295.5 233.6,296.7 C231.6,297.9 229.6,299.3 227.6,300.2 C225.6,301.1 223.7,301.5 221.7,302.0 C219.7,302.5 217.7,302.9 215.7,303.2 C213.7,303.5 211.8,303.6 209.8,303.8 C207.8,304.0 205.8,304.2 203.8,304.4 C201.8,304.6 199.9,304.8 197.9,305.0 C195.9,305.2 193.9,305.4 191.9,305.6 C189.9,305.8 188.9,306.3 186.0,306.2 C183.1,306.1 178.0,305.6 174.7,305.0 C171.3,304.4 168.3,303.6 166.0,302.3 C163.7,301.1 162.3,299.2 160.8,297.5 C159.3,295.8 156.5,294.6 157.1,291.9Z M367.9,300.2 C368.1,299.2 373.3,295.6 375.7,293.5 C378.1,291.4 380.2,289.6 382.4,287.9 C384.6,286.2 387.0,284.7 389.0,283.4 C391.0,282.1 392.9,280.9 394.6,280.1 C396.3,279.3 398.2,278.0 399.1,278.4 C400.0,278.8 399.6,280.7 400.2,282.3 C400.8,283.9 402.7,286.0 402.5,287.9 C402.3,289.8 400.4,292.0 399.1,293.5 C397.8,295.0 396.5,296.0 394.6,296.8 C392.8,297.6 390.2,298.1 388.0,298.5 C385.8,298.9 383.5,298.8 381.2,299.0 C379.0,299.2 376.8,299.4 374.6,299.6 C372.3,299.8 367.7,301.2 367.9,300.2Z" fill="#a890e8"/>
<path d="M340.6,80.5 C341.1,79.5 341.4,78.7 343.5,78.2 C345.6,77.7 350.1,77.5 353.2,77.6 C356.3,77.7 359.3,78.1 361.9,78.9 C364.5,79.7 366.3,81.5 368.7,82.4 C371.1,83.3 373.8,84.0 376.4,84.3 C379.0,84.6 381.6,84.4 384.2,84.3 C386.8,84.2 389.0,83.9 391.9,83.4 C394.8,82.9 398.4,82.2 401.6,81.4 C404.8,80.7 408.1,79.5 411.3,78.9 C414.5,78.3 417.7,77.9 420.9,77.6 C424.1,77.3 427.7,76.8 430.6,77.0 C433.5,77.2 436.4,77.6 438.3,78.5 C440.2,79.4 441.6,80.5 442.2,82.4 C442.8,84.4 442.1,87.6 441.8,90.2 C441.5,92.8 441.0,95.8 440.3,97.9 C439.6,100.0 438.2,101.1 437.4,102.7 C436.6,104.3 436.5,106.5 435.4,107.6 C434.3,108.7 432.7,108.5 430.6,109.5 C428.5,110.5 425.1,111.8 422.9,113.4 C420.6,115.0 418.7,117.0 417.1,119.2 C415.5,121.5 414.5,124.5 413.2,126.9 C411.9,129.3 410.8,132.7 409.3,133.7 C407.9,134.7 406.1,133.8 404.5,132.7 C402.9,131.6 400.9,129.2 399.6,126.9 C398.3,124.7 397.7,121.8 396.7,119.2 C395.7,116.6 395.2,113.5 393.8,111.4 C392.4,109.3 390.2,107.9 388.0,106.6 C385.8,105.3 382.9,104.3 380.3,103.7 C377.7,103.1 375.5,103.2 372.6,102.7 C369.7,102.2 366.1,101.6 362.9,100.8 C359.7,100.0 355.9,99.0 353.2,97.9 C350.4,96.8 348.2,95.5 346.4,94.0 C344.6,92.5 343.6,90.8 342.6,89.2 C341.6,87.6 340.9,85.8 340.6,84.3 C340.3,82.8 340.1,81.5 340.6,80.5Z" fill="#a890e8"/>
<g clip-path="url(#cm)">
<g filter="url(#bl)">
<ellipse cx="396" cy="276" rx="28" ry="22" fill="#d3d3d3" opacity="0.75"/>
<ellipse cx="362" cy="290" rx="22" ry="14" fill="#d3d3d3" opacity="0.55"/>
<ellipse cx="325" cy="298" rx="18" ry="8" fill="#d3d3d3" opacity="0.35"/>
<ellipse cx="200" cy="408" rx="22" ry="20" fill="#d3d3d3" opacity="0.4"/>
<ellipse cx="268" cy="262" rx="22" ry="18" fill="#d3d3d3" opacity="0.45"/>
<ellipse cx="256" cy="215" rx="16" ry="16" fill="#d3d3d3" opacity="0.4"/>
<ellipse cx="262" cy="180" rx="22" ry="16" fill="#d3d3d3" opacity="0.28"/>
<ellipse cx="172" cy="382" rx="18" ry="11" fill="#d3d3d3" opacity="0.35"/>
<ellipse cx="425" cy="95" rx="16" ry="14" fill="#d3d3d3" opacity="0.35"/>
<ellipse cx="355" cy="88" rx="14" ry="9" fill="#7c5af0" opacity="0.35"/>
</g>
<rect x="100" y="70" width="345" height="365" filter="url(#sp)"/>
<rect x="100" y="70" width="345" height="365" filter="url(#sg)"/>
<rect x="100" y="70" width="345" height="365" filter="url(#sw)"/>
<g mask="url(#m1)"><rect x="190" y="200" width="60" height="60" fill="#fff" opacity="0.8"/><rect x="100" y="70" width="345" height="365" filter="url(#spd)"/><rect x="100" y="70" width="345" height="365" filter="url(#sgd)"/></g>
<g clip-path="url(#s2)"><rect x="100" y="70" width="345" height="365" filter="url(#swh)"/></g>
<g clip-path="url(#s3)"><rect x="100" y="70" width="345" height="365" filter="url(#swh)"/></g>
<g clip-path="url(#s4)"><rect x="100" y="70" width="345" height="365" filter="url(#swh)"/></g>
</g>
<path d="M417.1,174.2 C417.1,172.7 419.4,171.1 421.0,169.3 C422.6,167.5 424.6,164.8 426.8,163.5 C429.1,162.2 431.6,161.7 434.5,161.2 C437.4,160.7 441.3,160.2 444.2,160.6 C447.1,161.0 449.6,162.2 451.9,163.5 C454.1,164.8 455.8,167.0 457.7,168.4 C459.6,169.8 460.9,171.4 463.5,172.2 C466.1,173.0 469.6,173.0 473.2,173.2 C476.8,173.4 480.9,173.3 484.8,173.2 C488.7,173.1 492.8,173.0 496.4,172.8 C499.9,172.6 504.2,171.5 506.1,172.2 C508.0,172.9 507.9,174.3 508.0,177.1 C508.1,179.8 507.5,184.8 507.0,188.7 C506.5,192.6 506.6,197.4 505.1,200.3 C503.7,203.2 501.4,204.5 498.3,206.1 C495.2,207.7 490.9,209.0 486.7,210.0 C482.5,211.0 477.7,211.5 473.2,211.9 C468.7,212.3 462.5,213.0 459.6,212.3 C456.7,211.7 456.4,210.3 455.8,208.0 C455.2,205.7 455.7,201.6 455.8,198.4 C455.9,195.2 457.0,191.0 456.7,188.7 C456.4,186.4 455.6,186.1 453.8,184.8 C452.0,183.5 448.7,181.3 446.1,181.0 C443.5,180.7 440.3,182.3 438.4,182.9 C436.5,183.5 436.1,185.1 434.5,184.8 C432.9,184.5 430.9,182.1 428.7,181.0 C426.4,179.9 422.9,179.2 421.0,178.1 C419.1,177.0 417.1,175.7 417.1,174.2Z" fill="#d3d1da"/>
<g clip-path="url(#cr)">
<g filter="url(#bl)"><ellipse cx="500" cy="190" rx="14" ry="18" fill="#b8a8e4" opacity="0.6"/></g>
<rect x="410" y="155" width="105" height="65" filter="url(#sp3)"/>
<rect x="410" y="155" width="105" height="65" filter="url(#sw2)"/>
<g filter="url(#bl)"><ellipse cx="436" cy="171" rx="22" ry="12" fill="#fff" opacity="0.55"/><ellipse cx="462" cy="200" rx="8" ry="12" fill="#fff" opacity="0.35"/></g>
</g>
<path d="M480.5,291.3 C482.2,291.1 484.9,291.8 486.5,293.4 C488.1,295.0 489.5,297.1 490.0,300.8 C490.5,304.5 489.8,310.7 489.5,315.7 C489.2,320.7 488.8,325.1 488.0,330.6 C487.2,336.1 485.6,343.5 485.0,348.5 C484.4,353.5 483.9,357.4 484.4,360.4 C484.9,363.4 486.4,364.8 488.0,366.3 C489.6,367.8 493.5,367.3 494.0,369.3 C494.5,371.3 492.5,375.7 491.0,378.2 C489.5,380.7 487.5,381.7 485.0,384.2 C482.5,386.7 479.0,390.1 476.0,393.1 C473.0,396.1 470.1,399.0 467.1,402.0 C464.1,405.0 461.2,408.0 458.2,411.0 C455.2,414.0 452.3,417.5 449.3,419.9 C446.3,422.3 443.4,424.3 440.4,425.2 C437.4,426.1 434.9,425.9 431.4,425.0 C427.9,424.1 423.5,422.2 419.5,419.9 C415.5,417.6 411.6,414.5 407.6,411.0 C403.6,407.5 399.7,403.2 395.7,399.0 C391.7,394.8 387.0,389.7 383.8,385.7 C380.6,381.7 378.1,378.4 376.4,375.2 C374.7,372.0 373.6,368.5 373.4,366.3 C373.1,364.1 372.7,362.8 374.9,361.8 C377.1,360.8 381.9,361.0 386.8,360.4 C391.8,359.8 399.2,359.0 404.6,358.0 C410.1,357.0 415.0,355.5 419.5,354.4 C424.0,353.3 427.9,352.6 431.4,351.4 C434.9,350.2 437.4,349.5 440.4,347.0 C443.4,344.5 446.8,339.7 449.3,336.5 C451.8,333.3 453.0,331.1 455.2,327.6 C457.4,324.1 460.2,319.7 462.7,315.7 C465.2,311.7 467.9,307.3 470.1,303.8 C472.3,300.3 474.3,297.0 476.0,294.9 C477.7,292.8 478.8,291.6 480.5,291.3Z" fill="#d3d3d3"/>
<path d="M489.0,371.0 C490.5,369.9 494.5,366.8 498.0,364.5 C501.5,362.2 505.8,359.7 510.0,357.0 C514.2,354.3 518.8,351.2 523.0,348.3 C527.2,345.4 531.7,342.2 535.0,339.5 C538.3,336.8 540.9,334.5 543.0,332.0 C545.1,329.5 546.2,327.0 547.5,324.5 C548.8,322.0 550.2,318.2 550.8,317.0" fill="none" stroke="#d3d3d3" stroke-width="3" stroke-linecap="round"/><path d="M543,333 L548,322 L551,317" stroke="#d3d3d3" stroke-width="4" stroke-linecap="round" fill="none"/><circle cx="524" cy="340" r="0.9" fill="#a58ae8"/><circle cx="527" cy="338.5" r="0.9" fill="#a58ae8"/><circle cx="531" cy="336" r="0.9" fill="#c8c0dc"/><circle cx="535" cy="334.5" r="0.9" fill="#c8c0dc"/><circle cx="510" cy="356" r="0.9" fill="#a58ae8"/><circle cx="503" cy="361" r="0.9" fill="#a58ae8"/>
<g clip-path="url(#cg)">
<rect x="370" y="285" width="125" height="145" filter="url(#sp2)" opacity="0.35"/>
</g>
<g mask="url(#em)" fill="none" stroke-width="3.2">
<path d="M156.7,182.0 C156.1,181.8 155.4,177.5 155.6,175.3 C155.8,173.1 156.5,170.3 157.8,168.6 C159.1,166.9 161.2,166.5 163.4,165.2 C165.6,163.9 169.3,162.3 171.2,160.8 C173.1,159.3 173.7,158.4 174.6,156.3 C175.5,154.2 175.7,151.7 176.8,148.5 C177.9,145.3 179.6,140.5 181.2,137.3 C182.9,134.1 184.6,131.7 186.8,129.5 C189.0,127.3 191.8,125.3 194.6,123.9 C197.4,122.5 200.6,121.4 203.6,121.2 C206.6,121.1 209.5,121.8 212.5,122.8 C215.5,123.8 218.4,125.6 221.4,127.3 C224.4,129.0 227.4,130.8 230.4,132.9 C233.4,135.0 236.3,137.4 239.3,139.6 C242.3,141.8 245.3,143.1 248.2,146.2 C251.1,149.4 254.5,155.4 256.9,158.3 C259.3,161.2 260.4,162.5 262.5,163.9 C264.6,165.3 267.3,165.8 269.4,166.7 C271.5,167.6 273.1,168.0 275.0,169.4 C276.9,170.8 279.1,173.1 280.6,175.0 C282.1,176.9 283.4,178.5 284.0,180.6 C284.6,182.7 284.2,185.2 284.0,187.5 C283.8,189.8 282.7,192.1 282.6,194.4 C282.5,196.7 282.5,199.1 283.3,201.4 C284.1,203.7 285.6,206.5 287.5,208.3 C289.4,210.2 292.1,211.4 294.4,212.5 C296.7,213.6 299.1,214.1 301.4,214.6 C303.7,215.1 306.6,214.7 308.3,215.3 C310.0,215.9 311.0,216.1 311.8,218.0 C312.6,219.9 312.5,223.5 313.0,226.7 C313.5,229.9 315.4,233.9 315.0,237.0 C314.6,240.1 312.9,243.1 310.8,245.4 C308.7,247.7 305.3,249.6 302.5,250.6 C299.7,251.6 295.9,250.5 294.2,251.7 C292.4,252.9 292.2,254.9 292.0,258.0 C291.8,261.1 292.1,267.3 293.1,270.4 C294.2,273.5 297.1,274.3 298.3,276.7 C299.5,279.1 300.0,282.9 300.4,285.0 C300.8,287.1 299.3,288.3 300.4,289.2 C301.4,290.1 304.3,290.2 306.7,290.2 C309.1,290.2 312.2,289.7 315.0,289.2 C317.8,288.7 320.5,288.0 323.3,287.0 C326.1,286.0 328.9,284.4 331.7,283.0 C334.5,281.6 337.6,280.1 340.0,278.8 C342.4,277.4 344.2,276.3 346.2,274.6 C348.3,272.9 350.4,270.4 352.5,268.3 C354.6,266.2 357.7,264.4 358.8,262.0 C359.8,259.6 359.1,256.5 358.8,253.8 C358.4,251.0 357.7,248.2 356.7,245.4 C355.7,242.6 353.9,239.8 352.5,237.0 C351.1,234.2 347.6,229.0 348.3,228.3 C349.0,227.6 353.9,231.1 356.7,232.9 C359.5,234.7 362.2,237.3 365.0,239.2 C367.8,241.1 370.5,242.8 373.3,244.4 C376.1,246.0 378.6,247.3 381.7,248.5 C384.8,249.7 388.5,250.5 392.0,251.7 C395.5,252.9 399.4,254.4 402.5,255.8 C405.6,257.2 408.6,257.9 410.8,260.0 C413.1,262.1 414.6,265.5 416.0,268.3 C417.4,271.1 418.7,274.4 419.2,276.7 C419.7,279.0 419.6,280.2 419.2,282.3 C418.8,284.4 418.1,287.1 417.0,289.0 C415.9,290.9 414.4,292.2 412.5,293.5 C410.6,294.8 408.0,295.9 405.8,296.8 C403.6,297.7 401.3,298.2 399.1,299.0 C396.9,299.8 395.0,300.6 392.4,301.3 C389.8,302.0 386.3,302.4 383.5,303.0 C380.7,303.6 377.9,304.0 375.7,304.6 C373.4,305.2 372.1,306.1 370.0,306.9 C367.9,307.6 364.9,308.2 363.4,309.1 C361.9,310.0 362.3,312.0 360.8,312.1 C359.3,312.2 357.4,310.9 354.6,310.0 C351.8,309.1 348.0,307.8 344.2,306.9 C340.4,306.0 335.5,305.3 331.7,304.8 C327.9,304.3 324.7,304.1 321.2,303.8 C317.8,303.4 314.3,302.7 310.8,302.7 C307.3,302.7 303.3,302.9 300.4,303.8 C297.5,304.6 295.9,307.5 293.3,308.1 C290.7,308.7 287.8,307.6 285.0,307.1 C282.2,306.6 280.2,305.5 276.7,305.0 C273.2,304.5 267.8,304.2 264.2,304.0 C260.6,303.8 258.1,303.7 255.0,303.8 C251.9,303.9 248.1,304.2 245.5,304.4 C242.9,304.6 241.5,304.8 239.5,305.0 C237.5,305.2 235.6,305.4 233.6,305.6 C231.6,305.8 229.6,305.8 227.6,306.2 C225.6,306.6 223.7,307.3 221.7,308.0 C219.7,308.7 217.7,309.5 215.7,310.4 C213.7,311.3 211.6,312.0 209.8,313.3 C208.0,314.6 206.6,316.5 205.0,318.1 C203.4,319.7 202.4,321.5 200.2,322.9 C198.0,324.3 194.7,325.4 191.9,326.4 C189.1,327.4 185.7,327.5 183.6,328.8 C181.5,330.1 181.0,331.9 179.2,334.2 C177.4,336.5 174.6,339.7 172.9,342.5 C171.2,345.3 169.8,348.4 168.8,350.8 C167.7,353.2 166.4,354.9 166.7,357.0 C167.0,359.1 168.7,361.7 170.8,363.3 C172.9,364.9 176.8,365.6 179.2,366.5 C181.6,367.4 184.7,366.9 185.4,368.5 C186.1,370.1 184.3,373.6 183.3,375.8 C182.3,378.1 179.7,379.9 179.2,382.0 C178.7,384.1 179.5,387.6 180.2,388.3 C180.9,389.0 182.4,388.0 183.3,386.2 C184.2,384.5 184.4,380.0 185.4,377.9 C186.4,375.8 188.2,374.3 189.6,373.8 C191.0,373.2 192.4,374.8 193.8,374.8 C195.1,374.8 196.5,373.6 197.9,373.8 C199.3,373.9 200.9,373.7 202.0,375.8 C203.1,377.9 202.8,383.8 204.2,386.2 C205.6,388.7 208.5,389.4 210.4,390.4 C212.3,391.4 214.2,393.5 215.6,392.5 C217.0,391.5 217.9,385.8 218.8,384.2 C219.6,382.6 220.6,382.1 220.8,383.1 C221.0,384.1 220.0,387.8 219.8,390.4 C219.6,393.0 219.3,396.0 219.8,398.8 C220.3,401.5 222.0,404.6 222.9,407.0 C223.8,409.4 224.7,411.2 225.0,413.3 C225.3,415.4 225.7,417.5 225.0,419.6 C224.3,421.7 222.9,424.2 220.8,425.8 C218.7,427.4 215.6,428.4 212.5,429.0 C209.4,429.6 205.5,430.0 202.0,429.6 C198.5,429.2 194.8,428.2 191.7,426.9 C188.6,425.6 185.6,423.6 183.3,421.7 C181.0,419.8 179.5,417.8 178.1,415.4 C176.7,412.9 176.2,409.4 175.0,407.0 C173.8,404.6 172.9,402.5 170.8,400.8 C168.7,399.1 165.3,397.9 162.5,396.7 C159.7,395.5 157.3,394.6 154.2,393.5 C151.1,392.4 147.2,391.4 143.8,390.4 C140.3,389.4 136.8,388.3 133.3,387.3 C129.8,386.3 126.0,385.4 122.9,384.2 C119.8,383.0 116.7,381.7 114.6,380.0 C112.5,378.3 111.1,375.8 110.4,373.8 C109.7,371.7 109.7,369.9 110.4,367.5 C111.1,365.1 113.2,362.0 114.6,359.2 C116.0,356.4 117.7,353.9 118.8,350.8 C119.8,347.7 120.2,343.9 120.8,340.4 C121.4,336.9 122.1,332.3 122.3,330.0 C122.5,327.7 122.0,328.6 121.7,326.6 C121.5,324.6 121.2,320.9 120.8,318.0 C120.4,315.1 120.0,311.8 119.1,309.2 C118.2,306.6 117.0,304.6 115.6,302.3 C114.1,300.0 111.6,297.9 110.4,295.3 C109.2,292.7 108.7,288.9 108.7,286.7 C108.7,284.5 109.0,283.6 110.4,282.3 C111.9,281.0 114.8,279.8 117.4,278.9 C120.0,278.0 123.1,277.5 126.0,277.1 C128.9,276.7 131.8,276.6 134.7,276.6 C137.6,276.6 140.5,277.2 143.4,277.1 C146.3,277.0 149.5,276.7 152.1,276.2 C154.7,275.8 157.0,275.2 159.0,274.5 C161.0,273.8 162.5,272.9 164.2,271.9 C165.9,270.9 167.4,270.0 169.4,268.4 C171.4,266.8 174.3,264.5 176.4,262.4 C178.5,260.3 180.2,258.2 182.0,256.0 C183.8,253.8 185.9,251.7 187.0,249.0 C188.1,246.3 188.3,243.3 188.8,240.0 C189.2,236.7 189.1,232.1 189.4,229.4 C189.7,226.7 190.1,225.8 190.8,223.9 C191.5,222.1 192.2,220.2 193.6,218.3 C195.0,216.5 197.3,214.7 199.2,212.8 C201.0,211.0 202.8,209.0 204.7,207.2 C206.5,205.3 208.5,203.5 210.3,201.7 C212.2,199.8 214.2,197.7 215.8,196.1 C217.4,194.5 219.1,193.5 220.0,192.0 C220.9,190.5 221.9,188.7 221.4,187.1 C220.9,185.5 218.8,183.7 217.2,182.2 C215.6,180.7 213.8,179.5 211.7,178.0 C209.6,176.5 207.0,174.5 204.7,173.2 C202.4,171.9 200.1,171.0 197.8,170.4 C195.5,169.8 193.1,169.8 190.8,169.7 C188.5,169.6 186.2,169.7 183.9,169.7 C181.6,169.7 179.2,169.9 176.9,169.7 C174.6,169.5 172.3,168.0 170.0,168.3 C167.7,168.6 164.8,170.1 163.0,171.5 C161.2,172.9 160.1,174.8 159.0,176.5 C157.9,178.2 157.3,182.2 156.7,182.0Z" stroke="#aa94e6"/><path d="M157.1,291.9 C157.7,289.2 161.5,283.8 164.3,281.2 C167.1,278.6 170.2,277.4 173.8,276.4 C177.4,275.4 182.1,276.0 185.7,275.2 C189.3,274.4 192.8,273.7 195.2,271.7 C197.6,269.7 198.4,265.5 200.0,263.3 C201.6,261.1 202.8,258.8 204.8,258.6 C206.8,258.4 209.5,260.5 211.9,262.1 C214.3,263.7 216.6,266.1 219.0,268.1 C221.4,270.1 223.8,272.4 226.2,274.0 C228.6,275.6 230.9,276.4 233.3,277.6 C235.7,278.8 238.4,280.1 240.5,281.2 C242.6,282.3 245.4,283.3 246.0,284.5 C246.6,285.7 245.4,287.1 244.3,288.5 C243.2,289.9 241.3,291.7 239.5,293.1 C237.7,294.5 235.6,295.5 233.6,296.7 C231.6,297.9 229.6,299.3 227.6,300.2 C225.6,301.1 223.7,301.5 221.7,302.0 C219.7,302.5 217.7,302.9 215.7,303.2 C213.7,303.5 211.8,303.6 209.8,303.8 C207.8,304.0 205.8,304.2 203.8,304.4 C201.8,304.6 199.9,304.8 197.9,305.0 C195.9,305.2 193.9,305.4 191.9,305.6 C189.9,305.8 188.9,306.3 186.0,306.2 C183.1,306.1 178.0,305.6 174.7,305.0 C171.3,304.4 168.3,303.6 166.0,302.3 C163.7,301.1 162.3,299.2 160.8,297.5 C159.3,295.8 156.5,294.6 157.1,291.9Z" stroke="#aa94e6"/><path d="M367.9,300.2 C368.1,299.2 373.3,295.6 375.7,293.5 C378.1,291.4 380.2,289.6 382.4,287.9 C384.6,286.2 387.0,284.7 389.0,283.4 C391.0,282.1 392.9,280.9 394.6,280.1 C396.3,279.3 398.2,278.0 399.1,278.4 C400.0,278.8 399.6,280.7 400.2,282.3 C400.8,283.9 402.7,286.0 402.5,287.9 C402.3,289.8 400.4,292.0 399.1,293.5 C397.8,295.0 396.5,296.0 394.6,296.8 C392.8,297.6 390.2,298.1 388.0,298.5 C385.8,298.9 383.5,298.8 381.2,299.0 C379.0,299.2 376.8,299.4 374.6,299.6 C372.3,299.8 367.7,301.2 367.9,300.2Z" stroke="#c6bde0"/>
<path d="M340.6,80.5 C341.1,79.5 341.4,78.7 343.5,78.2 C345.6,77.7 350.1,77.5 353.2,77.6 C356.3,77.7 359.3,78.1 361.9,78.9 C364.5,79.7 366.3,81.5 368.7,82.4 C371.1,83.3 373.8,84.0 376.4,84.3 C379.0,84.6 381.6,84.4 384.2,84.3 C386.8,84.2 389.0,83.9 391.9,83.4 C394.8,82.9 398.4,82.2 401.6,81.4 C404.8,80.7 408.1,79.5 411.3,78.9 C414.5,78.3 417.7,77.9 420.9,77.6 C424.1,77.3 427.7,76.8 430.6,77.0 C433.5,77.2 436.4,77.6 438.3,78.5 C440.2,79.4 441.6,80.5 442.2,82.4 C442.8,84.4 442.1,87.6 441.8,90.2 C441.5,92.8 441.0,95.8 440.3,97.9 C439.6,100.0 438.2,101.1 437.4,102.7 C436.6,104.3 436.5,106.5 435.4,107.6 C434.3,108.7 432.7,108.5 430.6,109.5 C428.5,110.5 425.1,111.8 422.9,113.4 C420.6,115.0 418.7,117.0 417.1,119.2 C415.5,121.5 414.5,124.5 413.2,126.9 C411.9,129.3 410.8,132.7 409.3,133.7 C407.9,134.7 406.1,133.8 404.5,132.7 C402.9,131.6 400.9,129.2 399.6,126.9 C398.3,124.7 397.7,121.8 396.7,119.2 C395.7,116.6 395.2,113.5 393.8,111.4 C392.4,109.3 390.2,107.9 388.0,106.6 C385.8,105.3 382.9,104.3 380.3,103.7 C377.7,103.1 375.5,103.2 372.6,102.7 C369.7,102.2 366.1,101.6 362.9,100.8 C359.7,100.0 355.9,99.0 353.2,97.9 C350.4,96.8 348.2,95.5 346.4,94.0 C344.6,92.5 343.6,90.8 342.6,89.2 C341.6,87.6 340.9,85.8 340.6,84.3 C340.3,82.8 340.1,81.5 340.6,80.5Z" stroke="#a48ce8"/>
<path d="M417.1,174.2 C417.1,172.7 419.4,171.1 421.0,169.3 C422.6,167.5 424.6,164.8 426.8,163.5 C429.1,162.2 431.6,161.7 434.5,161.2 C437.4,160.7 441.3,160.2 444.2,160.6 C447.1,161.0 449.6,162.2 451.9,163.5 C454.1,164.8 455.8,167.0 457.7,168.4 C459.6,169.8 460.9,171.4 463.5,172.2 C466.1,173.0 469.6,173.0 473.2,173.2 C476.8,173.4 480.9,173.3 484.8,173.2 C488.7,173.1 492.8,173.0 496.4,172.8 C499.9,172.6 504.2,171.5 506.1,172.2 C508.0,172.9 507.9,174.3 508.0,177.1 C508.1,179.8 507.5,184.8 507.0,188.7 C506.5,192.6 506.6,197.4 505.1,200.3 C503.7,203.2 501.4,204.5 498.3,206.1 C495.2,207.7 490.9,209.0 486.7,210.0 C482.5,211.0 477.7,211.5 473.2,211.9 C468.7,212.3 462.5,213.0 459.6,212.3 C456.7,211.7 456.4,210.3 455.8,208.0 C455.2,205.7 455.7,201.6 455.8,198.4 C455.9,195.2 457.0,191.0 456.7,188.7 C456.4,186.4 455.6,186.1 453.8,184.8 C452.0,183.5 448.7,181.3 446.1,181.0 C443.5,180.7 440.3,182.3 438.4,182.9 C436.5,183.5 436.1,185.1 434.5,184.8 C432.9,184.5 430.9,182.1 428.7,181.0 C426.4,179.9 422.9,179.2 421.0,178.1 C419.1,177.0 417.1,175.7 417.1,174.2Z" stroke="#d6d2de"/>
<path d="M480.5,291.3 C482.2,291.1 484.9,291.8 486.5,293.4 C488.1,295.0 489.5,297.1 490.0,300.8 C490.5,304.5 489.8,310.7 489.5,315.7 C489.2,320.7 488.8,325.1 488.0,330.6 C487.2,336.1 485.6,343.5 485.0,348.5 C484.4,353.5 483.9,357.4 484.4,360.4 C484.9,363.4 486.4,364.8 488.0,366.3 C489.6,367.8 493.5,367.3 494.0,369.3 C494.5,371.3 492.5,375.7 491.0,378.2 C489.5,380.7 487.5,381.7 485.0,384.2 C482.5,386.7 479.0,390.1 476.0,393.1 C473.0,396.1 470.1,399.0 467.1,402.0 C464.1,405.0 461.2,408.0 458.2,411.0 C455.2,414.0 452.3,417.5 449.3,419.9 C446.3,422.3 443.4,424.3 440.4,425.2 C437.4,426.1 434.9,425.9 431.4,425.0 C427.9,424.1 423.5,422.2 419.5,419.9 C415.5,417.6 411.6,414.5 407.6,411.0 C403.6,407.5 399.7,403.2 395.7,399.0 C391.7,394.8 387.0,389.7 383.8,385.7 C380.6,381.7 378.1,378.4 376.4,375.2 C374.7,372.0 373.6,368.5 373.4,366.3 C373.1,364.1 372.7,362.8 374.9,361.8 C377.1,360.8 381.9,361.0 386.8,360.4 C391.8,359.8 399.2,359.0 404.6,358.0 C410.1,357.0 415.0,355.5 419.5,354.4 C424.0,353.3 427.9,352.6 431.4,351.4 C434.9,350.2 437.4,349.5 440.4,347.0 C443.4,344.5 446.8,339.7 449.3,336.5 C451.8,333.3 453.0,331.1 455.2,327.6 C457.4,324.1 460.2,319.7 462.7,315.7 C465.2,311.7 467.9,307.3 470.1,303.8 C472.3,300.3 474.3,297.0 476.0,294.9 C477.7,292.8 478.8,291.6 480.5,291.3Z" stroke="#d3d3d3"/>
</g>
<circle cx="276.9" cy="375.7" r="1.1" fill="#9a7cec"/><circle cx="289.2" cy="376.8" r="1.1" fill="#9a7cec"/><circle cx="300.3" cy="388" r="1.1" fill="#9a7cec"/><circle cx="304.3" cy="392.9" r="1.1" fill="#9a7cec"/><circle cx="339.4" cy="385.7" r="1.1" fill="#9a7cec"/><circle cx="345" cy="385.3" r="1.1" fill="#9a7cec"/><circle cx="346" cy="389.7" r="1.1" fill="#9a7cec"/><circle cx="352.3" cy="390.8" r="1.1" fill="#9a7cec"/><circle cx="354.3" cy="390.2" r="1.1" fill="#9a7cec"/><circle cx="360.6" cy="388.6" r="1.1" fill="#9a7cec"/><circle cx="365" cy="395.8" r="1.1" fill="#9a7cec"/><circle cx="374.6" cy="363.8" r="1.1" fill="#9a7cec"/><circle cx="391.9" cy="206.1" r="1.1" fill="#9a7cec"/><circle cx="411.3" cy="197.4" r="1.1" fill="#9a7cec"/><circle cx="411.3" cy="207" r="1.1" fill="#9a7cec"/><circle cx="399.7" cy="215.8" r="1.1" fill="#9a7cec"/><circle cx="403.5" cy="218.7" r="1.1" fill="#9a7cec"/><circle cx="411.3" cy="226.4" r="1.1" fill="#9a7cec"/><circle cx="434.5" cy="110.5" r="1.1" fill="#9a7cec"/><circle cx="436" cy="112" r="1.1" fill="#9a7cec"/><circle cx="284.7" cy="369.6" r="1.1" fill="#d3d3d3"/><circle cx="295.8" cy="395" r="1.1" fill="#d3d3d3"/><circle cx="336" cy="390.8" r="1.1" fill="#d3d3d3"/><circle cx="339" cy="390.6" r="1.1" fill="#d3d3d3"/><circle cx="350" cy="388" r="1.1" fill="#d3d3d3"/><circle cx="362.8" cy="384.6" r="1.1" fill="#d3d3d3"/><circle cx="366.2" cy="386.8" r="1.1" fill="#d3d3d3"/><circle cx="369.5" cy="386.2" r="1.1" fill="#d3d3d3"/><circle cx="359.5" cy="392" r="1.1" fill="#d3d3d3"/><circle cx="376" cy="394.6" r="1.1" fill="#d3d3d3"/><circle cx="399.7" cy="206" r="1.1" fill="#d3d3d3"/><circle cx="404.5" cy="207" r="1.1" fill="#d3d3d3"/><circle cx="400.6" cy="212.9" r="1.1" fill="#d3d3d3"/><circle cx="407.4" cy="218.7" r="1.1" fill="#d3d3d3"/><circle cx="409.3" cy="224.5" r="1.1" fill="#d3d3d3"/><circle cx="328.5" cy="483.8" r="1.8" fill="#8a63f0"/><circle cx="326.3" cy="482" r="1.2" fill="#c0b0e8"/>
<path d="M553,243.5 C553.5,239 553,235 554.5,231.5 C556,229.5 558,228.5 560,228" fill="none" stroke="#d0cadb" stroke-width="2.6" stroke-linecap="round"/><circle cx="559.5" cy="228.3" r="1.3" fill="#a58ae8"/><circle cx="553" cy="242.5" r="1.2" fill="#b9a5e4"/>

<g stroke="#000" stroke-width="1.8" fill="none" stroke-linecap="butt">
<path d="M70.4,45 V513.8 M69.5,512.9 H598.6"/>
<path d="M112,513 V517.6 M289.6,513 V517.6 M467.3,513 V517.6"/>
<path d="M65.6,137.7 H70 M65.6,279.4 H70 M65.6,420.9 H70"/>
</g>
<g font-size="16" fill="#000">
<text x="112" y="533.5" text-anchor="middle">-10</text>
<text x="289.6" y="533.5" text-anchor="middle">0</text>
<text x="467.3" y="533.5" text-anchor="middle">10</text>
<text x="62" y="143.7" text-anchor="end">10</text>
<text x="62" y="285.4" text-anchor="end">0</text>
<text x="62" y="426.9" text-anchor="end">-10</text>
</g>
<text x="333.4" y="555.2" font-size="17.8" text-anchor="middle">UMAP_1</text>
<text transform="translate(30,279) rotate(-90)" font-size="17.8" text-anchor="middle">UMAP_2</text>
<text x="334" y="31.7" font-size="21.5" font-weight="bold" text-anchor="middle">CD69</text>
<rect x="616.5" y="228.3" width="20.4" height="102.1" fill="url(#lg)"/>
<g stroke="#fff" stroke-width="1">
<path d="M616.5,233.9 h4 M632.9,233.9 h4 M616.5,253.3 h4 M632.9,253.3 h4 M616.5,272.4 h4 M632.9,272.4 h4 M616.5,291.6 h4 M632.9,291.6 h4 M616.5,310.9 h4 M632.9,310.9 h4 M616.5,330 h4 M632.9,330 h4"/>
</g>
<g font-size="16" fill="#000">
<text x="646" y="240">5</text>
<text x="646" y="259">4</text>
<text x="646" y="278">3</text>
<text x="646" y="297">2</text>
<text x="646" y="316">1</text>
<text x="646" y="335.5">0</text>
</g>
</svg>
</body></html>
